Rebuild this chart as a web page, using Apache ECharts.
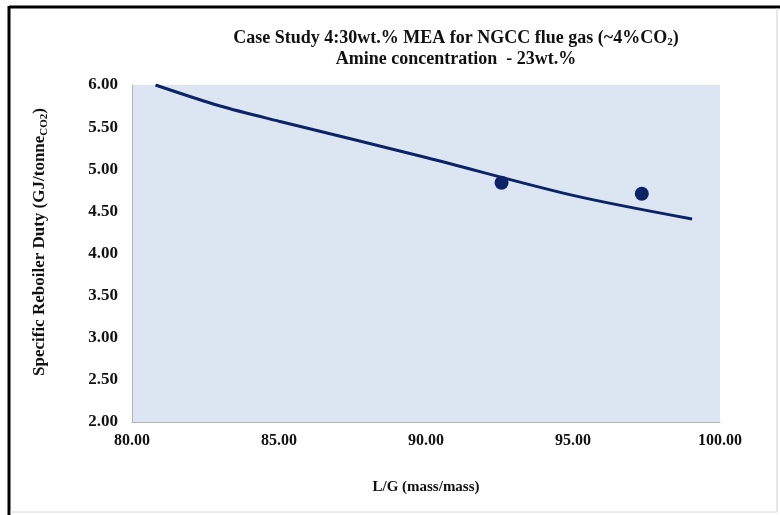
<!DOCTYPE html>
<html>
<head>
<meta charset="utf-8">
<script src="https://cdn.jsdelivr.net/npm/echarts@6/dist/echarts.min.js"></script>
<style>
  html, body { margin: 0; padding: 0; background: #ffffff; }
  #chart { width: 780px; height: 515px; }
</style>
</head>
<body>
<div id="chart"></div>
<script>
// Model curve: specific reboiler duty vs. L/G
const curveLG = [80.8, 83.0, 85.0, 90.0, 95.0, 99.05];
const curveDuty = [6.00, 5.75, 5.57, 5.14, 4.69, 4.41];

// Measured points
const pointLG = [92.57, 97.34];
const pointDuty = [4.84, 4.71];

// Axis ticks
const xTicks = [80, 85, 90, 95, 100];
const yTicks = [2.0, 2.5, 3.0, 3.5, 4.0, 4.5, 5.0, 5.5, 6.0];

const serif = '"Liberation Serif", "Times New Roman", serif';
const navy = '#0c2466';

const chart = echarts.init(document.getElementById('chart'), null, { renderer: 'canvas' });

const option = {
  backgroundColor: '#ffffff',
  animation: false,
  grid: {
    left: 132, right: 60, top: 85, bottom: 93,
    show: true, backgroundColor: '#dce6f2', borderWidth: 0
  },
  xAxis: {
    type: 'value',
    min: xTicks[0], max: xTicks[xTicks.length - 1], interval: 5,
    axisLine: { show: true, lineStyle: { color: '#b4b4b4', width: 1 } },
    axisTick: { show: false },
    splitLine: { show: false },
    axisLabel: {
      margin: 11,
      fontFamily: serif, fontWeight: 'bold', fontSize: 16, color: '#111',
      formatter: v => v.toFixed(2)
    },
    name: 'L/G (mass/mass)',
    nameLocation: 'middle',
    nameGap: 58,
    nameTextStyle: { fontFamily: serif, fontWeight: 'bold', fontSize: 15, color: '#111' }
  },
  yAxis: {
    type: 'value',
    min: yTicks[0], max: yTicks[yTicks.length - 1], interval: 0.5,
    axisLine: { show: true, lineStyle: { color: '#b4b4b4', width: 1 } },
    axisTick: { show: false },
    splitLine: { show: false },
    axisLabel: {
      margin: 14,
      fontFamily: serif, fontWeight: 'bold', fontSize: 17, color: '#111',
      formatter: v => v.toFixed(2)
    }
  },
  graphic: [
    // outer frame
    { type: 'line', shape: { x1: 9, y1: 7, x2: 780, y2: 7 }, style: { stroke: '#000', lineWidth: 3 } },
    { type: 'line', shape: { x1: 9, y1: 6, x2: 9, y2: 515 }, style: { stroke: '#000', lineWidth: 3 } },
    { type: 'line', shape: { x1: 777, y1: 8, x2: 777, y2: 512 }, style: { stroke: '#d0d0d0', lineWidth: 1 } },
    { type: 'line', shape: { x1: 10, y1: 512, x2: 777, y2: 512 }, style: { stroke: '#d8d8d8', lineWidth: 1 } },
    // title, two lines
    {
      type: 'text', z: 10,
      style: {
        x: 456, y: 38, align: 'center', verticalAlign: 'middle',
        text: '{a|Case Study 4:30wt.% MEA for NGCC flue gas (~4%CO}{s|2}{a|)}',
        rich: {
          a: { fontFamily: serif, fontWeight: 'bold', fontSize: 18, fill: '#111' },
          s: { fontFamily: serif, fontWeight: 'bold', fontSize: 11, fill: '#111', padding: [9, 0, 0, 0] }
        }
      }
    },
    {
      type: 'text', z: 10,
      style: {
        x: 456, y: 59, align: 'center', verticalAlign: 'middle',
        text: 'Amine concentration  - 23wt.%',
        fontFamily: serif, fontWeight: 'bold', fontSize: 18, fill: '#111'
      }
    },
    // y-axis title
    {
      type: 'text', z: 10,
      x: 40, y: 242, rotation: Math.PI / 2,
      style: {
        x: 0, y: 0, align: 'center', verticalAlign: 'middle',
        text: '{a|Specific Reboiler Duty (GJ/tonne}{s|CO2}{a|)}',
        rich: {
          a: { fontFamily: serif, fontWeight: 'bold', fontSize: 17, fill: '#111' },
          s: { fontFamily: serif, fontWeight: 'bold', fontSize: 11, fill: '#111', padding: [8, 0, 0, 0] }
        }
      }
    }
  ],
  series: [
    {
      type: 'line',
      smooth: 0.3,
      showSymbol: false,
      data: curveLG.map((x, i) => [x, curveDuty[i]]),
      lineStyle: { color: navy, width: 3 },
      z: 2
    },
    {
      type: 'scatter',
      symbol: 'circle',
      symbolSize: 14,
      data: pointLG.map((x, i) => [x, pointDuty[i]]),
      itemStyle: { color: navy, opacity: 1 },
      z: 3
    }
  ]
};

chart.setOption(option);
</script>
</body>
</html>
